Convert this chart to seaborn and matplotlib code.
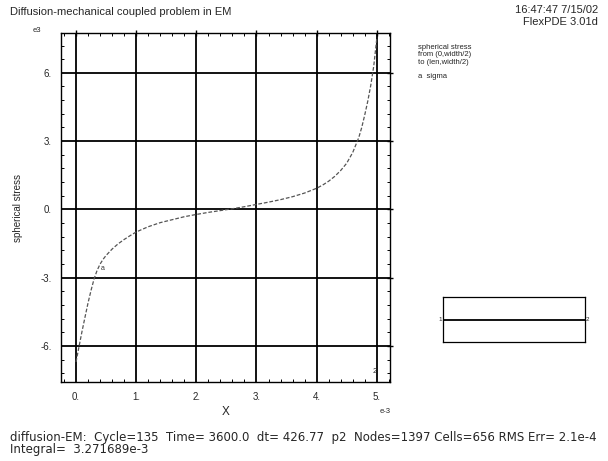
import matplotlib
matplotlib.use("Agg")
import matplotlib.pyplot as plt
import seaborn as sns
import pandas as pd
from matplotlib.ticker import MultipleLocator

# spherical stress along the cut (x in e-3, stress in e3)
x_pos = [0.0, 0.05, 0.1, 0.15, 0.2, 0.25, 0.3, 0.35, 0.4, 0.45, 0.5, 0.6, 0.7, 0.8,
         0.9, 1.0, 1.2, 1.4, 1.6, 1.8, 2.0, 2.2, 2.4, 2.6, 2.8, 3.0, 3.2, 3.4, 3.6,
         3.8, 4.0, 4.1, 4.2, 4.3, 4.4, 4.5, 4.6, 4.7, 4.75, 4.8, 4.85, 4.9, 4.95, 5.0]
sigma = [-6.7, -6.02, -5.35, -4.72, -4.1, -3.55, -3.05, -2.68, -2.4, -2.19, -2.02,
         -1.74, -1.51, -1.32, -1.15, -0.99, -0.76, -0.58, -0.45, -0.32, -0.22, -0.13,
         -0.05, 0.03, 0.12, 0.22, 0.32, 0.43, 0.56, 0.72, 0.93, 1.07, 1.24, 1.45,
         1.71, 2.03, 2.5, 3.15, 3.6, 4.15, 4.75, 5.45, 6.3, 7.5]

x_ticks = [0, 1, 2, 3, 4, 5]
x_labels = ["0.", "1.", "2.", "3.", "4.", "5."]
y_ticks = [-6, -3, 0, 3, 6]
y_labels = ["-6.", "-3.", "0.", "3.", "6."]

# domain sketch (len x width, in e-3) and cut line at width/2
domain_len = 5.0
domain_width = 1.6

df = pd.DataFrame({"x": x_pos, "sigma": sigma})

sns.set_theme(style="white")
plt.rcParams["font.family"] = ["Liberation Sans", "DejaVu Sans"]

fig = plt.figure(figsize=(6.08, 4.61), dpi=100)
ax = fig.add_axes([61 / 608, 1 - 382 / 461, (390 - 61) / 608, (382 - 33) / 461])

sns.lineplot(data=df, x="x", y="sigma", ax=ax, color="#555555", lw=0.9,
             linestyle=(0, (3, 1.5)))
ax.text(0.45, -2.6, "a", fontsize=5, color="#333333", ha="center", va="center")

ax.set_xlim(-0.25, 5.22)
ax.set_ylim(-7.58, 7.75)
ax.set_xticks(x_ticks)
ax.set_xticklabels(x_labels)
ax.set_yticks(y_ticks)
ax.set_yticklabels(y_labels)
ax.xaxis.set_minor_locator(MultipleLocator(0.2))
ax.yaxis.set_minor_locator(MultipleLocator(0.6))
ax.tick_params(which="major", direction="inout", length=4, width=1, labelsize=7,
               color="black", top=True, right=True)
ax.tick_params(axis="x", which="major", pad=5)
ax.tick_params(axis="y", which="major", pad=4.5)
ax.tick_params(which="minor", direction="in", length=2, width=0.7, color="black",
               top=True, right=True, bottom=True, left=True)
ax.grid(True, which="major", color="black", lw=1.3)
for s in ax.spines.values():
    s.set_color("black")
    s.set_linewidth(1.0)
ax.set_xlabel("X", fontsize=8.5, labelpad=3)
ax.set_ylabel("spherical stress", fontsize=7, labelpad=13)
fig.text(41 / 608, 1 - 31 / 461, "e3", fontsize=5.5, ha="right", va="center")
fig.text(380 / 608, 1 - 411 / 461, "e-3", fontsize=5.5, ha="left", va="center")
ax.text(4.96, -7.1, "2", fontsize=5.5, ha="center", va="center")

# header / footer text
fig.text(10 / 608, 1 - 12 / 461, "Diffusion-mechanical coupled problem in EM",
         fontsize=8, ha="left", va="center")
fig.text(598 / 608, 1 - 10 / 461, "16:47:47 7/15/02", fontsize=8, ha="right", va="center")
fig.text(598 / 608, 1 - 22 / 461, "FlexPDE 3.01d", fontsize=8, ha="right", va="center")
fig.text(418 / 608, 1 - 44 / 461, "spherical stress\nfrom (0,width/2)\nto (len,width/2)",
         fontsize=5.5, ha="left", va="top", linespacing=1.05)
fig.text(418 / 608, 1 - 77 / 461, "a  sigma", fontsize=5.5, ha="left", va="center")
fig.text(10 / 608, 1 - 437 / 461,
         "diffusion-EM:  Cycle=135  Time= 3600.0  dt= 426.77  p2  Nodes=1397 Cells=656 RMS Err= 2.1e-4",
         fontsize=8.5, ha="left", va="center", family=["DejaVu Sans"])
fig.text(10 / 608, 1 - 449 / 461, "Integral=  3.271689e-3", fontsize=8.5, ha="left",
         va="center", family=["DejaVu Sans"])

# domain sketch with the cut line
ax2 = fig.add_axes([443 / 608, 1 - 342 / 461, (585 - 443) / 608, (342 - 297) / 461])
sns.lineplot(x=[0, domain_len], y=[domain_width / 2, domain_width / 2], ax=ax2,
             color="black", lw=1.3)
ax2.set_xlim(0, domain_len)
ax2.set_ylim(0, domain_width)
ax2.set_xticks([])
ax2.set_yticks([])
ax2.set_xlabel("")
ax2.set_ylabel("")
for s in ax2.spines.values():
    s.set_color("black")
    s.set_linewidth(0.9)
ax2.text(-0.02, domain_width / 2, "1", fontsize=4.5, ha="right", va="center", clip_on=False)
ax2.text(domain_len + 0.02, domain_width / 2, "2", fontsize=4.5, ha="left", va="center",
         clip_on=False)

fig.savefig("out.png", dpi=100)
